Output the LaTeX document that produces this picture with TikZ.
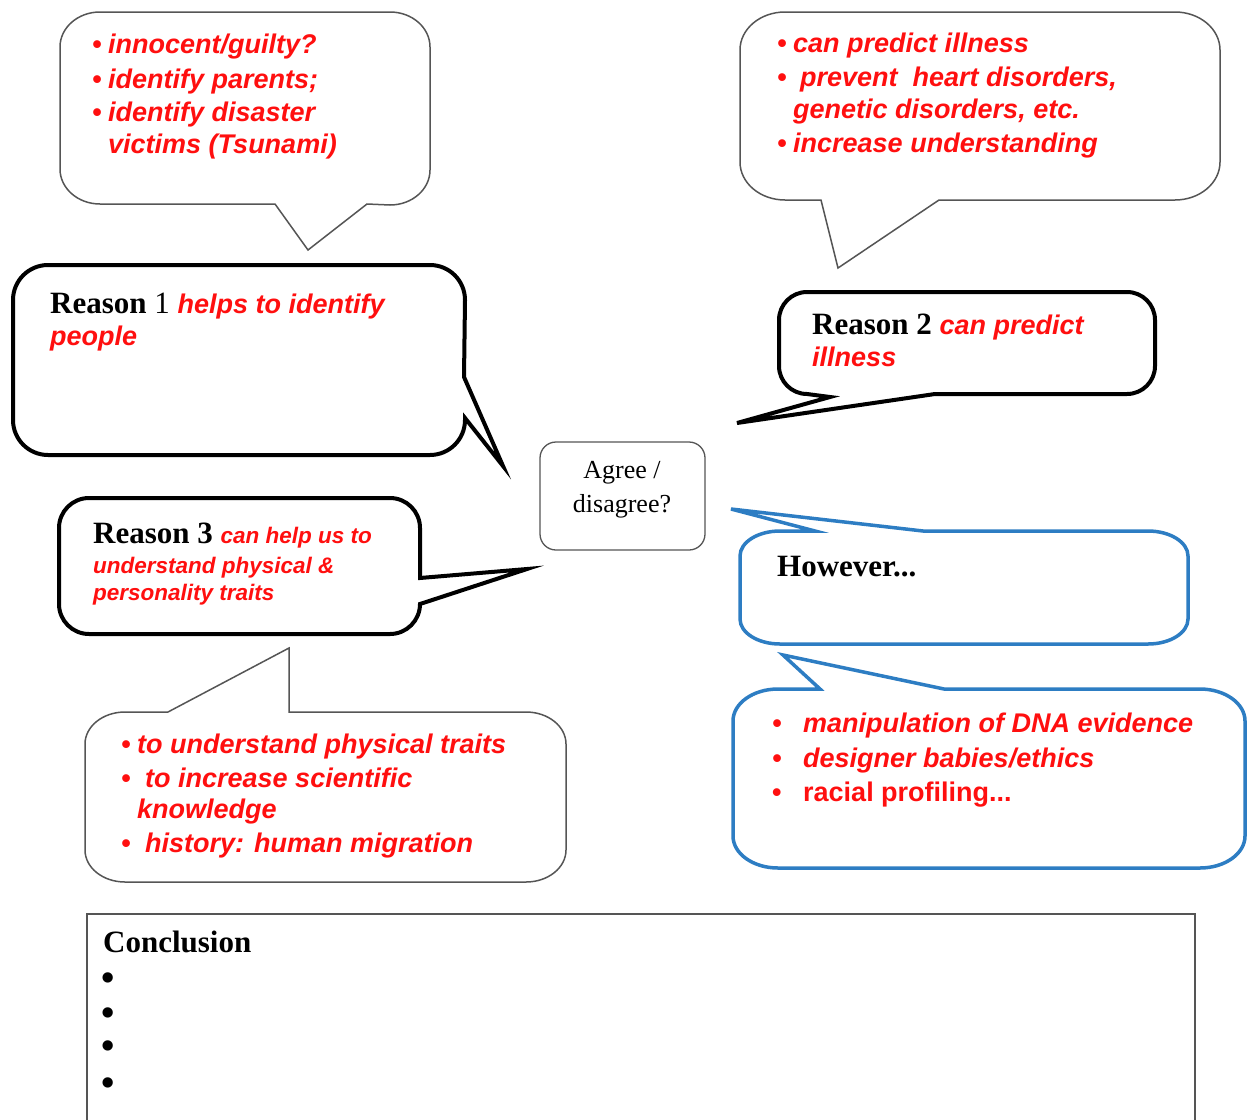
\documentclass[tikz,border=0pt]{standalone}
\usepackage{fontspec}
\setmainfont{Liberation Serif}
\newfontfamily\arialf{Liberation Sans}
\definecolor{txtred}{RGB}{255,15,15}
\definecolor{bubgray}{RGB}{85,85,85}
\definecolor{bubblue}{RGB}{45,125,195}
\newcommand{\mybul}[1][16pt]{\makebox[#1][l]{•}}
\newcommand{\redbig}{\color{txtred}\arialf\bfseries\itshape\fontsize{27}{32}\selectfont}
\newcommand{\redsm}{\color{txtred}\arialf\bfseries\itshape\fontsize{22.5}{27}\selectfont}
\begin{document}
\begin{tikzpicture}[x=1pt,y=1pt,line join=miter,
  thinbub/.style={draw=bubgray, line width=1.5pt, fill=white},
  thickbub/.style={draw=black, line width=4pt, fill=white},
  bluebub/.style={draw=bubblue, line width=3.5pt, fill=white},
  redtxt/.style={anchor=base west, inner sep=0pt, text=txtred, font=\arialf\bfseries\itshape\fontsize{27}{32}\selectfont},
  redsmall/.style={anchor=base west, inner sep=0pt, text=txtred, font=\arialf\bfseries\itshape\fontsize{22.5}{27}\selectfont},
  headtxt/.style={anchor=base west, inner sep=0pt, font=\fontsize{31}{36}\selectfont},
  plaintxt/.style={anchor=base, inner sep=0pt, font=\fontsize{26}{32}\selectfont},
  conbul/.style={anchor=base west, inner sep=0pt, text height=18pt, text depth=0pt, font=\bfseries\fontsize{38}{40}\selectfont}]
\useasboundingbox (0,0) rectangle (1247,-1119);
\fill[white] (0,0) rectangle (1247,-1119);

% top-left thin bubble
\draw[thinbub] (100,-12) -- (390,-12) arc[start angle=90,end angle=0,x radius=40,y radius=35]
  -- (430,-170) arc[start angle=0,end angle=-90,x radius=40,y radius=35]
  -- (367,-204) -- (308,-250) -- (275,-204)
  -- (100,-204) arc[start angle=-90,end angle=-180,x radius=40,y radius=35]
  -- (60,-47) arc[start angle=180,end angle=90,x radius=40,y radius=35] -- cycle;

% Reason 1 thick bubble
\draw[thickbub] (48,-265) -- (430,-265) arc[start angle=90,end angle=0,radius=35]
  -- (464,-377) -- (503,-466) -- (465,-418)
  -- (465,-420) arc[start angle=0,end angle=-90,radius=35]
  -- (48,-455) arc[start angle=-90,end angle=-180,radius=35]
  -- (13,-300) arc[start angle=180,end angle=90,radius=35] -- cycle;

% top-right thin bubble
\draw[thinbub] (785,-12) -- (1175,-12) arc[start angle=90,end angle=0,x radius=45,y radius=38]
  -- (1220,-162) arc[start angle=0,end angle=-90,x radius=45,y radius=38]
  -- (939,-200) -- (838,-268) -- (821,-200)
  -- (785,-200) arc[start angle=-90,end angle=-180,x radius=45,y radius=38]
  -- (740,-50) arc[start angle=180,end angle=90,x radius=45,y radius=38] -- cycle;

% Reason 2 thick bubble
\draw[thickbub] (807,-292) -- (1127,-292) arc[start angle=90,end angle=0,radius=28]
  -- (1155,-366) arc[start angle=0,end angle=-90,radius=28]
  -- (935,-394) -- (737,-423) -- (830,-397)
  -- (807,-394) arc[start angle=-90,end angle=-180,radius=28]
  -- (779,-320) arc[start angle=180,end angle=90,radius=28] -- cycle;

% Reason 3 thick bubble
\draw[thickbub] (89,-498) -- (390,-498) arc[start angle=90,end angle=0,radius=30]
  -- (420,-578) -- (527,-569) -- (420,-604)
  arc[start angle=0,end angle=-90,radius=30]
  -- (89,-634) arc[start angle=-90,end angle=-180,radius=30]
  -- (59,-528) arc[start angle=180,end angle=90,radius=30] -- cycle;

% lower-left thin bubble
\draw[thinbub] (125,-712) -- (168,-712) -- (289,-648) -- (289,-712)
  -- (526,-712) arc[start angle=90,end angle=0,x radius=40,y radius=32]
  -- (566,-850) arc[start angle=0,end angle=-90,x radius=40,y radius=32]
  -- (125,-882) arc[start angle=-90,end angle=-180,x radius=40,y radius=32]
  -- (85,-744) arc[start angle=180,end angle=90,x radius=40,y radius=32] -- cycle;

% However blue bubble
\draw[bluebub] (780,-531) -- (815,-531) -- (731,-509) -- (923,-531)
  -- (1148,-531) arc[start angle=90,end angle=0,x radius=40,y radius=25]
  -- (1188,-619) arc[start angle=0,end angle=-90,x radius=40,y radius=25]
  -- (780,-644) arc[start angle=-90,end angle=-180,x radius=40,y radius=25]
  -- (740,-556) arc[start angle=180,end angle=90,x radius=40,y radius=25] -- cycle;

% lower-right blue bubble
\draw[bluebub] (778,-689) -- (820,-689) -- (783,-655) -- (944,-689)
  -- (1200,-689) arc[start angle=90,end angle=0,x radius=45,y radius=32]
  -- (1245,-836) arc[start angle=0,end angle=-90,x radius=45,y radius=32]
  -- (778,-868) arc[start angle=-90,end angle=-180,x radius=45,y radius=32]
  -- (733,-721) arc[start angle=180,end angle=90,x radius=45,y radius=32] -- cycle;

% Agree box
\node[draw=bubgray, line width=1.3pt, rounded corners=16pt, minimum width=165pt,
  minimum height=108pt, inner sep=0pt] (agree) at (622.5,-496) {};
\node[plaintxt] (agree1) at (622,-478) {Agree /};
\node[plaintxt] (agree2) at (622,-512) {disagree?};

% Conclusion box
\node[draw=bubgray, line width=1.5pt, minimum width=1108pt, minimum height=240pt,
  anchor=north west, inner sep=0pt] (concl) at (86,-913) {};

% texts top-left
\node[redtxt] (tl1) at (92,-53) {\mybul innocent/guilty?};
\node[redtxt] (tl2) at (92,-88) {\mybul identify parents;};
\node[redtxt] (tl3) at (92,-121) {\mybul identify disaster};
\node[redtxt] (tl4) at (108,-153) {victims (Tsunami)};

% texts top-right
\node[redtxt] (tr1) at (777,-52) {\mybul can predict illness};
\node[redtxt] (tr2) at (777,-86) {\mybul[23pt]prevent\ \ heart disorders,};
\node[redtxt] (tr3) at (793,-118) {genetic disorders, etc.};
\node[redtxt] (tr4) at (777,-152) {\mybul increase understanding};

% Reason 1
\node[headtxt] (r1a) at (50,-313) {\textbf{Reason} 1 {\redbig helps to identify}};
\node[redtxt] (r1b) at (50,-345) {people};

% Reason 2
\node[headtxt] (r2a) at (812,-334) {\textbf{Reason 2} {\redbig can predict}};
\node[redtxt] (r2b) at (812,-366) {illness};

% Reason 3
\node[headtxt] (r3a) at (93,-543) {\textbf{Reason 3} {\redsm can help us to}};
\node[redsmall] (r3b) at (93,-573) {understand physical \&};
\node[redsmall] (r3c) at (93,-600) {personality traits};

% lower-left texts
\node[redtxt] (ll1) at (121,-753) {\mybul to understand physical traits};
\node[redtxt] (ll2) at (121,-787) {\mybul[24pt]to increase scientific};
\node[redtxt] (ll3) at (137,-818) {knowledge};
\node[redtxt] (ll4) at (121,-852) {\mybul[24pt]history: human migration};

% However
\node[headtxt] (how) at (777,-576) {\textbf{However...}};

% lower-right texts
\node[redtxt] (lr1) at (772,-732) {\mybul[31pt]manipulation of DNA evidence};
\node[redtxt] (lr2) at (772,-767) {\mybul[31pt]designer babies/ethics};
\node[redtxt, font=\arialf\bfseries\fontsize{27}{32}\selectfont] (lr3) at (772,-801) {\mybul[31pt]racial profiling...};

% Conclusion
\node[headtxt] (conc) at (103,-952) {\textbf{Conclusion}};
\node[conbul] (cb1) at (101,-990) {•};
\node[conbul] (cb2) at (101,-1025) {•};
\node[conbul] (cb3) at (101,-1058) {•};
\node[conbul] (cb4) at (101,-1095) {•};
\end{tikzpicture}
\end{document}
